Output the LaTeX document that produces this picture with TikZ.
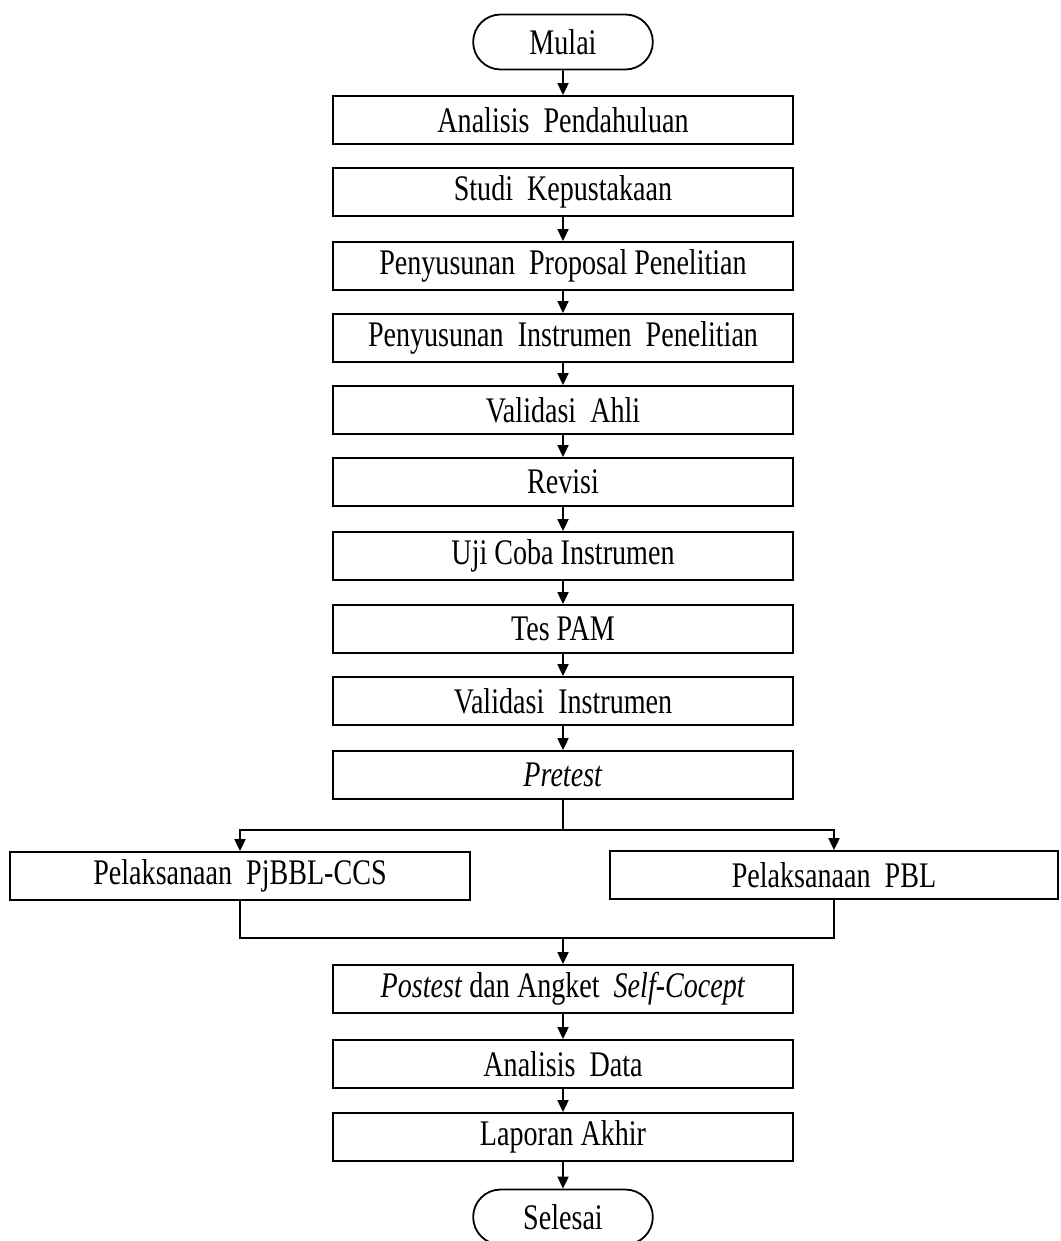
\documentclass[tikz,border=0pt]{standalone}
\usepackage{fontspec}
\setmainfont[FakeStretch=0.78]{Liberation Serif}
\usetikzlibrary{shapes.misc,arrows.meta}
\tikzstyle{terminal}=[draw, rounded rectangle, minimum width=96.5pt, minimum height=27.5pt, line width=0.9pt, font=\fontsize{18}{22}\selectfont]
\tikzstyle{processBox}=[draw, minimum width=230pt, minimum height=24pt, inner sep=0pt, line width=0.9pt, font=\fontsize{18}{22}\selectfont]
\tikzstyle{branchBox}=[processBox, minimum width=224pt]
\tikzstyle{flow}=[-{Triangle[length=6pt,width=5.5pt]}, line width=0.9pt]

\begin{document}
\begin{tikzpicture}[x=0.5pt, y=-0.5pt]
\useasboundingbox (0,0) rectangle (1060,1241);
\node (mulai) [terminal] at (563,42) {Mulai};
\node (analisis) [processBox] at (563,120) {Analisis~ Pendahuluan};
\path (analisis)+(0,72) node (studi) [processBox] {Studi~ Kepustakaan};
\path (studi)+(0,74) node (proposal) [processBox] {Penyusunan~ Proposal Penelitian};
\path (proposal)+(0,72) node (instrumen) [processBox] {Penyusunan~ Instrumen~ Penelitian};
\path (instrumen)+(0,72) node (validasiAhli) [processBox] {Validasi~ Ahli};
\path (validasiAhli)+(0,72) node (revisi) [processBox] {Revisi};
\path (revisi)+(0,74) node (ujiCoba) [processBox] {Uji Coba Instrumen};
\path (ujiCoba)+(0,73) node (tesPam) [processBox] {Tes PAM};
\path (tesPam)+(0,72) node (validasiInst) [processBox] {Validasi~ Instrumen};
\path (validasiInst)+(0,74) node (pretest) [processBox] {\textit{Pretest}};
\coordinate (split) at (563,830);
\node (pjbbl) [processBox] at (240,876) {Pelaksanaan~ PjBBL-CCS};
\node (pbl) [branchBox] at (834,875) {Pelaksanaan~ PBL};
\coordinate (merge) at (563,938);
\node (postest) [processBox] at (563,989) {\textit{Postest} dan Angket~ \textit{Self-Cocept}};
\path (postest)+(0,75) node (analisisData) [processBox] {Analisis~ Data};
\path (analisisData)+(0,73) node (laporan) [processBox] {Laporan Akhir};
\path (laporan)+(0,80) node (selesai) [terminal] {Selesai};

\draw[flow] (mulai) -- (analisis);
\draw[flow] (studi) -- (proposal);
\draw[flow] (proposal) -- (instrumen);
\draw[flow] (instrumen) -- (validasiAhli);
\draw[flow] (validasiAhli) -- (revisi);
\draw[flow] (revisi) -- (ujiCoba);
\draw[flow] (ujiCoba) -- (tesPam);
\draw[flow] (tesPam) -- (validasiInst);
\draw[flow] (validasiInst) -- (pretest);
\draw[line width=0.9pt] (pretest) -- (split);
\draw[flow] (split) -| (pjbbl);
\draw[flow] (split) -| (pbl);
\draw[line width=0.9pt] (pjbbl) |- (merge);
\draw[line width=0.9pt] (pbl) |- (merge);
\draw[flow] (merge) -- (postest);
\draw[flow] (postest) -- (analisisData);
\draw[flow] (analisisData) -- (laporan);
\draw[flow] (laporan) -- (selesai);
\end{tikzpicture}
\end{document}
